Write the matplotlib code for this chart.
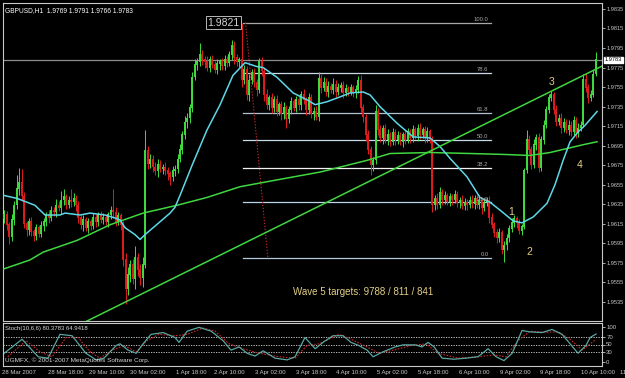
#!/usr/bin/env python3
"""GBPUSD H1 - Fibonacci retracement, wave count and Stochastic"""
import matplotlib
matplotlib.use('Agg')
import matplotlib.pyplot as plt
import numpy as np

plt.rcParams['font.family'] = ['Liberation Sans', 'DejaVu Sans']

# ══════════════════════════════════════════════════
# DATA (prices in pips above 1.9500)
# ══════════════════════════════════════════════════
BASE = 1.95
FIRST_OPEN = 120

close_pips = [
    124, 114, 101, 119, 134, 151, 157, 143, 115, 109, 117, 107, 103, 111, 105, 113,
    117, 124, 121, 129, 127, 134, 131, 139, 143, 134, 139, 137, 141, 134, 121, 114,
    119, 111, 117, 113, 121, 117, 124, 119,
    121, 117, 124, 129, 127, 117, 123, 114, 78, 48, 63, 73, 58, 80, 68, 60, 73, 190,
    176, 181, 173, 169, 176, 171, 173, 169, 166, 163, 169, 171, 181, 191, 206, 219,
    223, 234, 265, 278, 281, 288, 283,
    281, 275, 283, 278, 273, 279, 281, 277, 283, 280, 288, 298, 285, 281, 283, 262,
    273, 247, 262, 270, 260, 252, 281, 271, 247, 237, 244, 234, 242, 230, 237, 227,
    234, 222, 232, 240, 234, 242, 237, 247,
    242, 232, 244, 227, 230, 224, 264, 254, 260, 250, 256, 252, 258, 250, 254, 257,
    249, 253, 250, 254, 249, 252, 262, 234, 224, 206, 191, 175, 180, 230, 211, 203,
    213, 201, 206, 199, 208, 201, 205, 199,
    206, 201, 209, 203, 211, 205, 213, 206, 211, 203, 209, 201, 134, 141, 134, 147,
    139, 144, 137, 143, 139, 145, 136, 139, 133, 137, 134, 139, 135, 141, 134, 139,
    131, 137, 139, 121, 114, 106, 100, 106, 88, 93,
    100, 110, 116, 120, 116, 108, 112, 170, 201, 191, 175, 196, 203, 172, 201, 216,
    232, 244, 247, 232, 219, 223, 213, 219, 211, 216, 209, 221, 208, 213, 216, 263,
    254, 244, 247, 268, 283,
]
wick_hi = [
    5, 4, 3, 6, 4, 14, 15, 14, 5, 3, 4, 5, 3, 4, 3, 5, 4, 3, 5, 4,
    3, 6, 4, 10, 8, 3, 4, 12, 6, 3, 4, 3, 5, 3, 4, 3, 5, 4, 3, 4,
    5, 4, 3, 4, 22, 5, 4, 3, 4, 7, 8, 5, 6, 12, 5, 6, 8, 21, 5, 6,
    4, 5, 5, 4, 3, 5, 4, 3, 5, 4, 5, 6, 4, 6, 5, 4, 5, 6, 4, 12,
    5, 4, 6, 4, 5, 4, 5, 3, 4, 5, 4, 4, 5, 4, 4, 3, 38, 5, 4, 6,
    4, 5, 3, 4, 5, 4, 6, 3, 5, 4, 5, 3, 4, 6, 3, 4, 5, 3, 4, 5,
    4, 6, 3, 5, 4, 5, 6, 6, 4, 5, 4, 5, 3, 6, 4, 5, 3, 4, 5, 3,
    4, 3, 5, 4, 5, 4, 3, 5, 4, 3, 7, 4, 5, 3, 4, 6, 3, 5, 4, 5,
    4, 3, 5, 4, 3, 5, 3, 4, 5, 3, 4, 5, 3, 4, 3, 6, 6, 4, 5, 3,
    4, 3, 5, 4, 3, 5, 4, 3, 4, 5, 3, 4, 5, 3, 4, 3, 4, 5, 3, 4,
    5, 3, 4, 5, 4, 5, 4, 3, 4, 3, 2, 10, 5, 4, 6, 4, 5, 4, 5, 4,
    4, 4, 3, 5, 4, 5, 4, 3, 5, 4, 4, 3, 5, 4, 5, 6, 4, 5, 4, 8,
]
wick_lo = [
    4, 5, 7, 4, 5, 4, 6, 5, 4, 6, 5, 4, 6, 5, 4, 3, 5, 4, 5, 3,
    4, 5, 3, 6, 5, 4, 3, 5, 4, 6, 5, 4, 6, 3, 5, 4, 3, 5, 4, 3,
    4, 3, 5, 4, 6, 4, 3, 5, 6, 15, 6, 8, 5, 10, 6, 8, 10, 3, 5, 4,
    5, 4, 6, 3, 5, 4, 6, 8, 4, 5, 4, 3, 5, 4, 6, 5, 4, 3, 5, 4,
    5, 6, 4, 5, 3, 4, 5, 6, 4, 5, 4, 3, 5, 6, 4, 5, 7, 4, 5, 6,
    4, 5, 6, 3, 5, 6, 4, 5, 6, 4, 5, 4, 6, 5, 9, 4, 5, 3, 4, 5,
    5, 4, 6, 5, 4, 6, 3, 4, 5, 3, 4, 5, 3, 4, 5, 3, 4, 5, 3, 4,
    3, 4, 5, 3, 4, 5, 6, 5, 10, 6, 4, 5, 4, 6, 3, 5, 4, 3, 5, 4,
    3, 5, 4, 3, 5, 4, 3, 5, 4, 3, 5, 4, 3, 7, 5, 4, 3, 5, 4, 3,
    4, 5, 3, 4, 5, 3, 4, 5, 3, 4, 5, 3, 4, 6, 3, 4, 5, 3, 4, 5,
    4, 4, 12, 5, 4, 3, 4, 5, 3, 4, 2, 3, 5, 4, 3, 5, 4, 3, 4, 3,
    4, 3, 5, 4, 3, 5, 4, 3, 5, 4, 3, 5, 4, 3, 2, 4, 5, 3, 2, 2,
]

# fast MA (cyan) vertices: bar index / pips
ma_fast_bar = [0, 5.2, 12.4, 16.5, 22.5, 24.6, 30.6, 34.7, 40.7, 44.8, 46.8, 48.8,
               52.8, 54.9, 56.9, 62.9, 67, 69, 71, 75.9, 81.9, 87.2, 92.4, 97.3,
               102.1, 104.6, 110.2, 116.7, 122.3, 125.6, 130.4, 135.7, 139.7, 145,
               147.8, 151.8, 158.7, 165.2, 172, 176.1, 180.1, 187, 192.2, 196.3,
               200.3, 205.6, 209.2, 213.7, 219.3, 222.5, 225.8, 228.6, 231.8, 234.7, 239.5]
ma_fast_pips = [144, 141, 134, 124, 124, 126, 124, 126, 124, 121, 119, 111,
                104, 99, 104, 117, 126, 132, 144, 175, 211, 237, 267, 280,
                276, 275, 265, 249, 242, 237, 240, 245, 249, 250,
                247, 235, 218, 204, 203, 194, 182, 163, 142, 137,
                129, 118, 116, 122, 136, 155, 180, 199, 209, 216, 230]

# slow MA (green) vertices
ma_slow_bar = [0, 10.4, 15.7, 29.4, 42.7, 56.1, 69.8, 81.9, 95.3, 110.2, 127.6,
               146.6, 155.9, 172, 188.2, 202.3, 212.4, 220.5, 233.9, 239.5]
ma_slow_pips = [69, 78, 86, 98, 114, 126, 134, 142, 153, 160, 168,
                180, 187, 188, 187, 186, 185, 188, 196, 199]

# trend line anchors
trend_bar = [49, 240]
trend_price = [1.9535, 1.97746]

# Fibonacci retracement
fib_levels = [0.0, 23.6, 38.2, 50.0, 61.8, 78.6, 100.0]
fib_colors = ['#b4c8dc', '#bcd4e8', '#f2f2f2', '#c4dce8', '#b0c0d0', '#c8d8e8', '#a8a8a8']
fib_low, fib_high = 1.9580, 1.9821
fib_anchor_bar = [97.5, 106.5]
fib_span = [96.5, 196.5]

last_price = 1.9783

price_ticks = [1.9535, 1.9555, 1.9575, 1.9595, 1.9615, 1.9635, 1.9655, 1.9675,
               1.9695, 1.9715, 1.9735, 1.9755, 1.9775, 1.9795, 1.9815, 1.9835]

time_labels = ['28 Mar 2007', '28 Mar 18:00', '29 Mar 10:00', '30 Mar 02:00',
               '1 Apr 18:00', '2 Apr 10:00', '3 Apr 02:00', '3 Apr 18:00',
               '4 Apr 10:00', '5 Apr 02:00', '5 Apr 18:00', '6 Apr 10:00',
               '9 Apr 02:00', '9 Apr 18:00', '10 Apr 10:00', '11 Apr 02:00']
time_bars = [-0.9, 17.7, 34.3, 50.8, 69.4, 84.8, 101.3, 117.9,
             134.1, 150.6, 167.2, 183.8, 200.3, 216.5, 233, 248.8]

# wave count
wave_text = ['1', '2', '3', '4']
wave_bar = [204.8, 212.1, 221, 232.3]
wave_price = [1.9627, 1.9586, 1.9760, 1.9675]

# Stochastic(10,6,6)
stoch_main_bar = [0, 7.2, 13.7, 17.7, 22.5, 27.4, 33, 37.1, 40.3, 45.2, 46.8, 50,
                  53.3, 56.1, 59.3, 64.2, 69, 70.6, 73.9, 78.7, 83.6, 88.4, 91.6,
                  94.9, 98.1, 101.3, 104.6, 109.4, 114.3, 117.5, 121.5, 125.6,
                  128.8, 132.8, 136.9, 140.1, 143.3, 146.6, 149, 153, 157.9, 161.1,
                  166, 168.8, 171.2, 173.7, 176.9, 181.7, 186.6, 191.4, 195.5,
                  198.7, 201.9, 205.2, 209.2, 212.4, 217.3, 221.3, 225.4, 228.6,
                  231.8, 235, 236.7, 239.1]
stoch_main_val = [25, 65, 15, 11, 79, 75, 25, 6, 11, 47, 52, 34,
                  25, 52, 79, 84, 70, 56, 88, 99, 88, 61, 34,
                  43, 25, 17, 32, 11, 6, 15, 70, 38,
                  56, 75, 75, 56, 47, 34, 15, 29, 43, 49,
                  49, 43, 56, 43, 11, 8, 11, 15, 38,
                  15, 4, 25, 90, 86, 84, 93, 79, 52,
                  25, 47, 70, 80]
stoch_sig_bar = [1.5, 8.8, 14.5, 19.3, 25, 29.8, 34.7, 38.7, 43.6, 48.4, 53.3,
                 57.7, 62.5, 69, 73.9, 80.3, 85.2, 90.8, 96.5, 103, 111, 117.5,
                 122.3, 127.2, 135.3, 140.1, 146.6, 151.4, 157.9, 164.4, 170.4,
                 175.3, 183.4, 191.4, 197.9, 202.7, 207.6, 212.4, 218.9, 223.8,
                 228.6, 233.5, 239.1]
stoch_sig_val = [15, 61, 29, 15, 70, 70, 29, 11, 34, 47, 29,
                 61, 79, 75, 79, 97, 88, 52, 38, 25, 15, 11,
                 47, 52, 79, 65, 43, 25, 35, 47, 52,
                 25, 11, 15, 20, 15, 61, 88, 85, 86,
                 65, 34, 65]

# ── styles ──
BG = 'black'
FRAME = '#c8c8c8'
BULL = '#3ede3e'
BEAR = '#e01c1c'
CYAN = '#5ed8e8'
LIME = '#3fd63f'
GOLD = '#e2cf84'

# ══════════════════════════════════════════════════
# FIGURE
# ══════════════════════════════════════════════════
fig = plt.figure(figsize=(6.25, 3.78), dpi=100, facecolor=BG)
ax = fig.add_axes([3/625, 1 - 321/378, 599/625, 318/378], facecolor=BG)
ax_st = fig.add_axes([3/625, 1 - 366/378, 599/625, 43/378], facecolor=BG, sharex=ax)

n = len(close_pips)
bars = np.arange(n)
close = BASE + np.array(close_pips) / 1e4
opens = np.r_[BASE + FIRST_OPEN / 1e4, close[:-1]]
top = np.maximum(opens, close)
bot = np.minimum(opens, close)
high = top + np.array(wick_hi) / 1e4
low = bot - np.array(wick_lo) / 1e4
cols = np.where(close >= opens, BULL, BEAR)

# current price line
ax.axhline(last_price, color='#8c8c8c', lw=0.9, zorder=1)

# candles
ax.vlines(bars, low, high, colors=cols, lw=0.7, zorder=3)
ax.vlines(bars, bot, top + 0.00006, colors=cols, lw=1.4, zorder=3)

# moving averages and trend line
ax.plot(ma_slow_bar, BASE + np.array(ma_slow_pips) / 1e4, color=LIME, lw=1.1, zorder=4)
ax.plot(ma_fast_bar, BASE + np.array(ma_fast_pips) / 1e4, color=CYAN, lw=1.1, zorder=4)
slope = (trend_price[1] - trend_price[0]) / (trend_bar[1] - trend_bar[0])
tx = [trend_bar[0] - 30, trend_bar[1] + 10]
ax.plot(tx, [trend_price[0] + slope * (t - trend_bar[0]) for t in tx],
        color=LIME, lw=1.1, zorder=4)

# Fibonacci retracement
for lvl, c in zip(fib_levels, fib_colors):
    p = fib_low + (fib_high - fib_low) * lvl / 100
    ax.plot(fib_span, [p, p], color=c, lw=0.9, zorder=2)
    ax.annotate(f'{lvl:.1f}', xy=(fib_span[1], p), xytext=(-1.5, 0.6),
                textcoords='offset points', ha='right', va='bottom',
                fontsize=4.2, color='#a8a8a8', zorder=5)
ax.plot(fib_anchor_bar, [fib_high, fib_low], color='#c02828', lw=0.8,
        ls=(0, (1.2, 1.5)), zorder=2)
ax.text(fib_span[0] - 1.5, fib_high, '1.9821', ha='right', va='center', fontsize=7.5,
        color='#d4d4d4', zorder=6,
        bbox=dict(boxstyle='square,pad=0.12', fc='black', ec='#b8b8b8', lw=0.7))

# wave labels
for t, b, p in zip(wave_text, wave_bar, wave_price):
    ax.text(b, p, t, ha='center', va='center', fontsize=7.5, color=GOLD, zorder=6)
ax.text(116.5, 1.9545, 'Wave 5 targets: 9788 / 811 / 841', ha='left', va='center',
        fontsize=7.0, color=GOLD, zorder=6)

ax.text(0.004, 0.987, 'GBPUSD,H1  1.9769 1.9791 1.9766 1.9783', transform=ax.transAxes,
        ha='left', va='top', fontsize=4.8, color='white')

# price axis
ax.set_xlim(-0.5, 241.5)
ax.set_ylim(1.95155, 1.98411)
ax.yaxis.tick_right()
ax.set_yticks(price_ticks)
ax.set_yticklabels([f'{v:.4f}' for v in price_ticks])
ax.tick_params(axis='y', colors=FRAME, labelsize=4.1, length=2, width=0.6, pad=1)
ax.tick_params(axis='x', bottom=False, labelbottom=False)
ax.text(1.005, last_price, f'{last_price:.4f}', transform=ax.get_yaxis_transform(),
        ha='left', va='center', fontsize=4.1, color='black', zorder=7,
        bbox=dict(boxstyle='square,pad=0.12', fc='white', ec='white'))

# ── Stochastic pane ──
for lv in (30, 50, 70):
    ax_st.axhline(lv, color='#d8d8d8', lw=0.6, ls=(0, (1.5, 1.5)))
ax_st.plot(stoch_sig_bar, stoch_sig_val, color='#c82828', lw=0.8, ls=(0, (1.5, 1.3)))
ax_st.plot(stoch_main_bar, stoch_main_val, color='#5aa6a2', lw=0.9)
ax_st.set_ylim(-11.4, 111.4)
ax_st.yaxis.tick_right()
ax_st.set_yticks([0, 30, 50, 70, 100])
ax_st.tick_params(axis='y', colors=FRAME, labelsize=4.3, length=2, width=0.6, pad=1)
ax_st.tick_params(axis='x', bottom=False, labelbottom=False)
ax_st.text(0.004, 0.93, 'Stoch(10,6,6) 80.3783 64.9418', transform=ax_st.transAxes,
           ha='left', va='top', fontsize=4.3, color='#d8d8d8')
ax_st.text(0.004, 0.08, 'UGMFX, © 2001-2007 MetaQuotes Software Corp.',
           transform=ax_st.transAxes, ha='left', va='bottom', fontsize=4.6, color='#d8d8d8')

# time axis labels
for b, lab in zip(time_bars, time_labels):
    ax_st.text(b, -0.14, lab, transform=ax_st.get_xaxis_transform(), ha='left',
               va='center', fontsize=4.3, color=FRAME, clip_on=False)

for a in (ax, ax_st):
    for s in a.spines.values():
        s.set_color(FRAME)
        s.set_linewidth(0.8)

fig.savefig('out.png', dpi=100, facecolor=BG)
